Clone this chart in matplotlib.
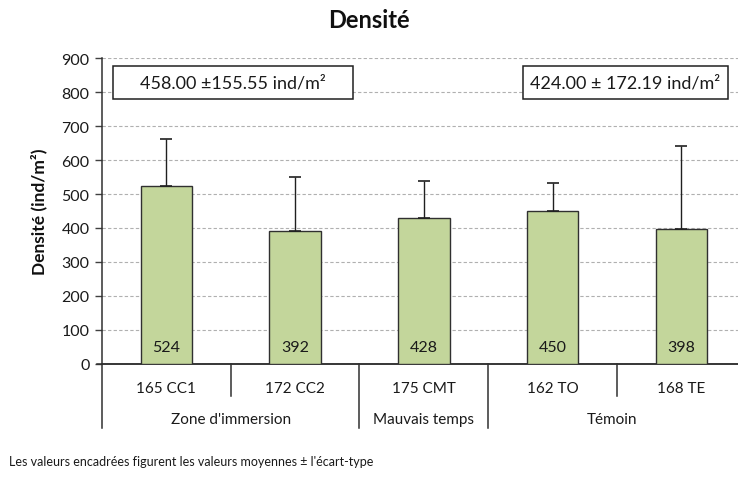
import matplotlib.pyplot as plt
from matplotlib.patches import Rectangle
from matplotlib.transforms import blended_transform_factory

plt.rcParams['font.family'] = ['Lato', 'DejaVu Sans']

# Densité par station
stations = ["165 CC1", "172 CC2", "175 CMT", "162 TO", "168 TE"]
densite = [524, 392, 428, 450, 398]
ecart_type = [139, 159, 109, 81, 244]

# Regroupement des stations
groupes = ["Zone d'immersion", "Mauvais temps", "Témoin"]
taille_groupes = [2, 1, 2]

# Moyennes encadrées
resumes = ["458.00 \u00b1155.55 ind/m\u00b2", "424.00 \u00b1 172.19 ind/m\u00b2"]

fig = plt.figure(figsize=(7.38, 4.81), dpi=100)
ax = fig.add_axes([0.1382, 0.2412, 0.8618, 0.6361])

x = range(len(stations))
ax.bar(x, densite, width=0.40, color="#c3d69b", edgecolor="#303030",
       linewidth=1.0, zorder=3)
ax.errorbar(x, densite, yerr=[[0] * len(densite), ecart_type], fmt="none",
            ecolor="#202020", elinewidth=1.0, capsize=4, capthick=1.2, zorder=4)

for i, v in enumerate(densite):
    ax.text(i, 50, str(v), ha="center", va="center", fontsize=11.5,
            color="#1a1a1a", zorder=5)

ax.set_xlim(-0.5, 4.44)
ax.set_ylim(0, 900)
ax.set_yticks(range(0, 1000, 100))
ax.tick_params(axis="y", labelsize=11.5, length=5, width=1, color="#404040",
               labelcolor="#1a1a1a", pad=4)
ax.set_xticks([])
ax.yaxis.grid(True, linestyle=(0, (3, 2)), color="#b0b0b0", linewidth=0.8)
ax.set_axisbelow(True)
for s in ["top", "right"]:
    ax.spines[s].set_visible(False)
for s in ["left", "bottom"]:
    ax.spines[s].set_color("#303030")
    ax.spines[s].set_linewidth(1.1)
ax.axhline(0, xmin=-0.008, xmax=1, color="#303030", lw=1.1, clip_on=False)

ax.set_ylabel("Densité (ind/m\u00b2)", fontsize=12.5, fontweight="bold",
              labelpad=10, color="#101010")

# Axe des catégories sur deux niveaux
trans = blended_transform_factory(ax.transData, ax.transAxes)
px = 1 / (ax.get_position().height * fig.get_figheight() * fig.dpi)
y1 = -32 * px
y2 = -64 * px
for i, s in enumerate(stations):
    ax.text(i, -24 * px, s, transform=trans, ha="center", va="center",
            fontsize=11, color="#1a1a1a")

bornes = [-0.5]
for n in taille_groupes:
    bornes.append(bornes[-1] + n)
for a, b, g in zip(bornes[:-1], bornes[1:], groupes):
    ax.text(min((a + b) / 2, 3.46), -55 * px, g, transform=trans,
            ha="center", va="center", fontsize=11, color="#1a1a1a")
for b in bornes[:-1]:
    ax.plot([b, b], [0, y2], transform=trans, color="#303030", lw=1.1,
            clip_on=False)
k = 0
for n in taille_groupes:
    for j in range(1, n):
        b = k + j - 0.5
        ax.plot([b, b], [0, y1], transform=trans, color="#303030", lw=1.1,
                clip_on=False)
    k += n

# Cadres des valeurs moyennes
cadres = [(-0.415, 1.449), (2.769, 4.36)]
for (a, b), txt in zip(cadres, resumes):
    ax.add_patch(Rectangle((a, 780), b - a, 97, facecolor="white",
                           edgecolor="#202020", lw=1.1, zorder=6))
    ax.text((a + b) / 2, 828, txt, ha="center", va="center", fontsize=13,
            color="#1a1a1a", zorder=7)

fig.text(0.5, 0.957, "Densité", ha="center", va="center", fontsize=17,
         fontweight="bold", color="#101010")
fig.text(0.012, 0.040, "Les valeurs encadrées figurent les valeurs moyennes "
         "\u00b1 l'écart-type", ha="left", va="center", fontsize=9,
         color="#1a1a1a")

fig.savefig("out.png", dpi=100)
